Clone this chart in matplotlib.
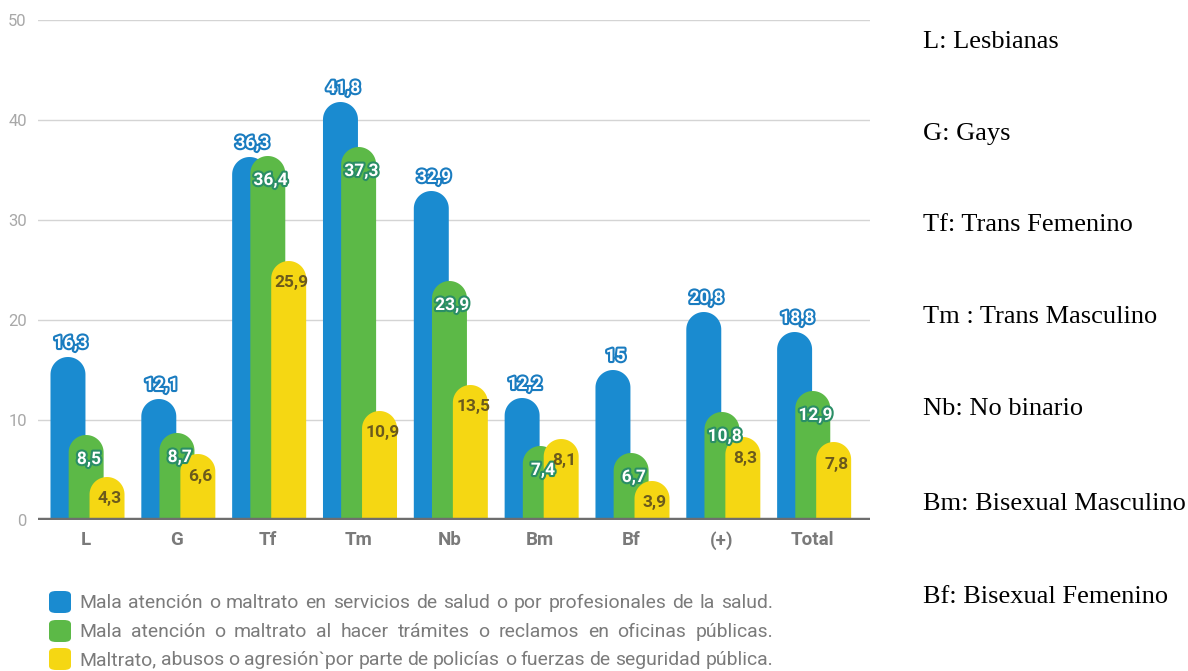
import numpy as np
import matplotlib
matplotlib.use("Agg")
import matplotlib.pyplot as plt
import matplotlib.patheffects as pe
from matplotlib.patches import Polygon, FancyBboxPatch

# Data
categories = ["L", "G", "Tf", "Tm", "Nb", "Bm", "Bf", "(+)", "Total"]
salud = [16.3, 12.1, 36.3, 41.8, 32.9, 12.2, 15, 20.8, 18.8]
tramites = [8.5, 8.7, 36.4, 37.3, 23.9, 7.4, 6.7, 10.8, 12.9]
policia = [4.3, 6.6, 25.9, 10.9, 13.5, 8.1, 3.9, 8.3, 7.8]
series_labels = [
    "Mala atención o maltrato en servicios de salud o por profesionales de la salud.",
    "Mala atención o maltrato al hacer trámites o reclamos en oficinas públicas.",
    "Maltrato, abusos o agresión`por parte de policías o fuerzas de seguridad pública.",
]
side_notes = [
    "L: Lesbianas",
    "G: Gays",
    "Tf: Trans Femenino",
    "Tm : Trans Masculino",
    "Nb: No binario",
    "Bm: Bisexual Masculino",
    "Bf: Bisexual Femenino",
]

BLUE = "#1a8bd0"
GREEN = "#5cb947"
YELLOW = "#f5d713"
colors = [BLUE, GREEN, YELLOW]

W, H = 1188, 671
fig = plt.figure(figsize=(W / 100, H / 100), dpi=100)


def fx(px):
    return px / W


def fy(py):
    return 1 - py / H


ax = fig.add_axes([fx(38), fy(520), fx(870) - fx(38), fy(20) - fy(520)])
ax.set_xlim(-0.53, 8.63)
ax.set_ylim(0, 50)

# pixel -> data scale for the rounded tops
px_per_y = (520 - 20) / 50.0
bar_w = 0.385
ry = (bar_w * 90.8 / 2) / px_per_y

offsets = [-0.2, 0.0, 0.23]
x = np.arange(len(categories))


def pill(xc, v, color, z):
    t = np.linspace(0, np.pi, 40)
    arc = np.column_stack([xc + bar_w / 2 * np.cos(t), v - ry + ry * np.sin(t)])
    pts = np.vstack([[xc - bar_w / 2, 0], [xc + bar_w / 2, 0], arc])
    ax.add_patch(Polygon(pts, closed=True, facecolor=color, edgecolor="none", zorder=z))


for i, vals in enumerate([salud, tramites, policia]):
    for j, v in enumerate(vals):
        pill(x[j] + offsets[i], v, colors[i], 2 + i)

lab_font = dict(family="Roboto", fontsize=12.5, fontweight="bold", ha="center", va="center", zorder=10)
for j, v in enumerate(salud):
    ax.text(x[j] + offsets[0] + 0.03, v + 1.35, f"{v:g}".replace(".", ","), color="white",
            path_effects=[pe.withStroke(linewidth=3, foreground="#1a7cc0")], **lab_font)
for j, v in enumerate(tramites):
    ax.text(x[j] + offsets[1] + 0.03, v - 2.45, f"{v:g}".replace(".", ","), color="white",
            path_effects=[pe.withStroke(linewidth=3, foreground="#2a8e66")], **lab_font)
for j, v in enumerate(policia):
    ax.text(x[j] + offsets[2] + 0.03, v - 2.2, f"{v:g}".replace(".", ","), color="#6b5a1c", **lab_font)

# axes styling
ax.set_yticks([0, 10, 20, 30, 40, 50])
ax.set_yticklabels(["0", "10", "20", "30", "40", "50"], family="Roboto", fontsize=12, color="#a8a8a8")
ax.set_xticks(x)
ax.set_xticklabels(categories, family="Roboto", fontsize=13.5, fontweight="bold", color="#7a7a7a")
ax.tick_params(axis="both", length=0)
ax.tick_params(axis="y", pad=8)
ax.tick_params(axis="x", pad=8)
for s in ax.spines.values():
    s.set_visible(False)
ax.grid(axis="y", color="#d4d4d4", linewidth=1)
ax.set_axisbelow(True)
ax.axhline(0, color="#6e6e6e", linewidth=3.2, zorder=6)

# bottom legend, justified lines
renderer = fig.canvas.get_renderer()
x0, x1 = 79, 773
probe = fig.text(0, 0, series_labels[2], family="Roboto", fontsize=12)
leg_size = 12 * (x1 - x0) / probe.get_window_extent(renderer).width
probe.remove()
leg_font = dict(family="Roboto", fontsize=leg_size, color="#7b7b7b")
row_y = [602, 631, 659]
for k, line in enumerate(series_labels):
    fig.patches.append(FancyBboxPatch((fx(49), fy(row_y[k] + 11)), fx(71) - fx(49), fy(row_y[k] - 11) - fy(row_y[k] + 11),
                                      boxstyle="round,pad=0,rounding_size=0.006", facecolor=colors[k],
                                      edgecolor="none", transform=fig.transFigure, figure=fig))
    words = line.split(" ")
    widths = []
    for wd in words:
        t = fig.text(0, 0, wd, **leg_font)
        widths.append(t.get_window_extent(renderer).width)
        t.remove()
    gap = (x1 - x0 - sum(widths)) / (len(words) - 1)
    xp = x0
    for wd, w in zip(words, widths):
        fig.text(fx(xp), fy(row_y[k] + 6), wd, va="baseline", ha="left", **leg_font)
        xp += w + gap

# side notes
note_y = [42, 134, 225, 317, 409, 504, 597]
for txt, yy in zip(side_notes, note_y):
    fig.text(fx(923), fy(yy), txt, family="Liberation Serif", fontsize=19, color="black", va="center", ha="left")

fig.savefig("out.png", dpi=100)
